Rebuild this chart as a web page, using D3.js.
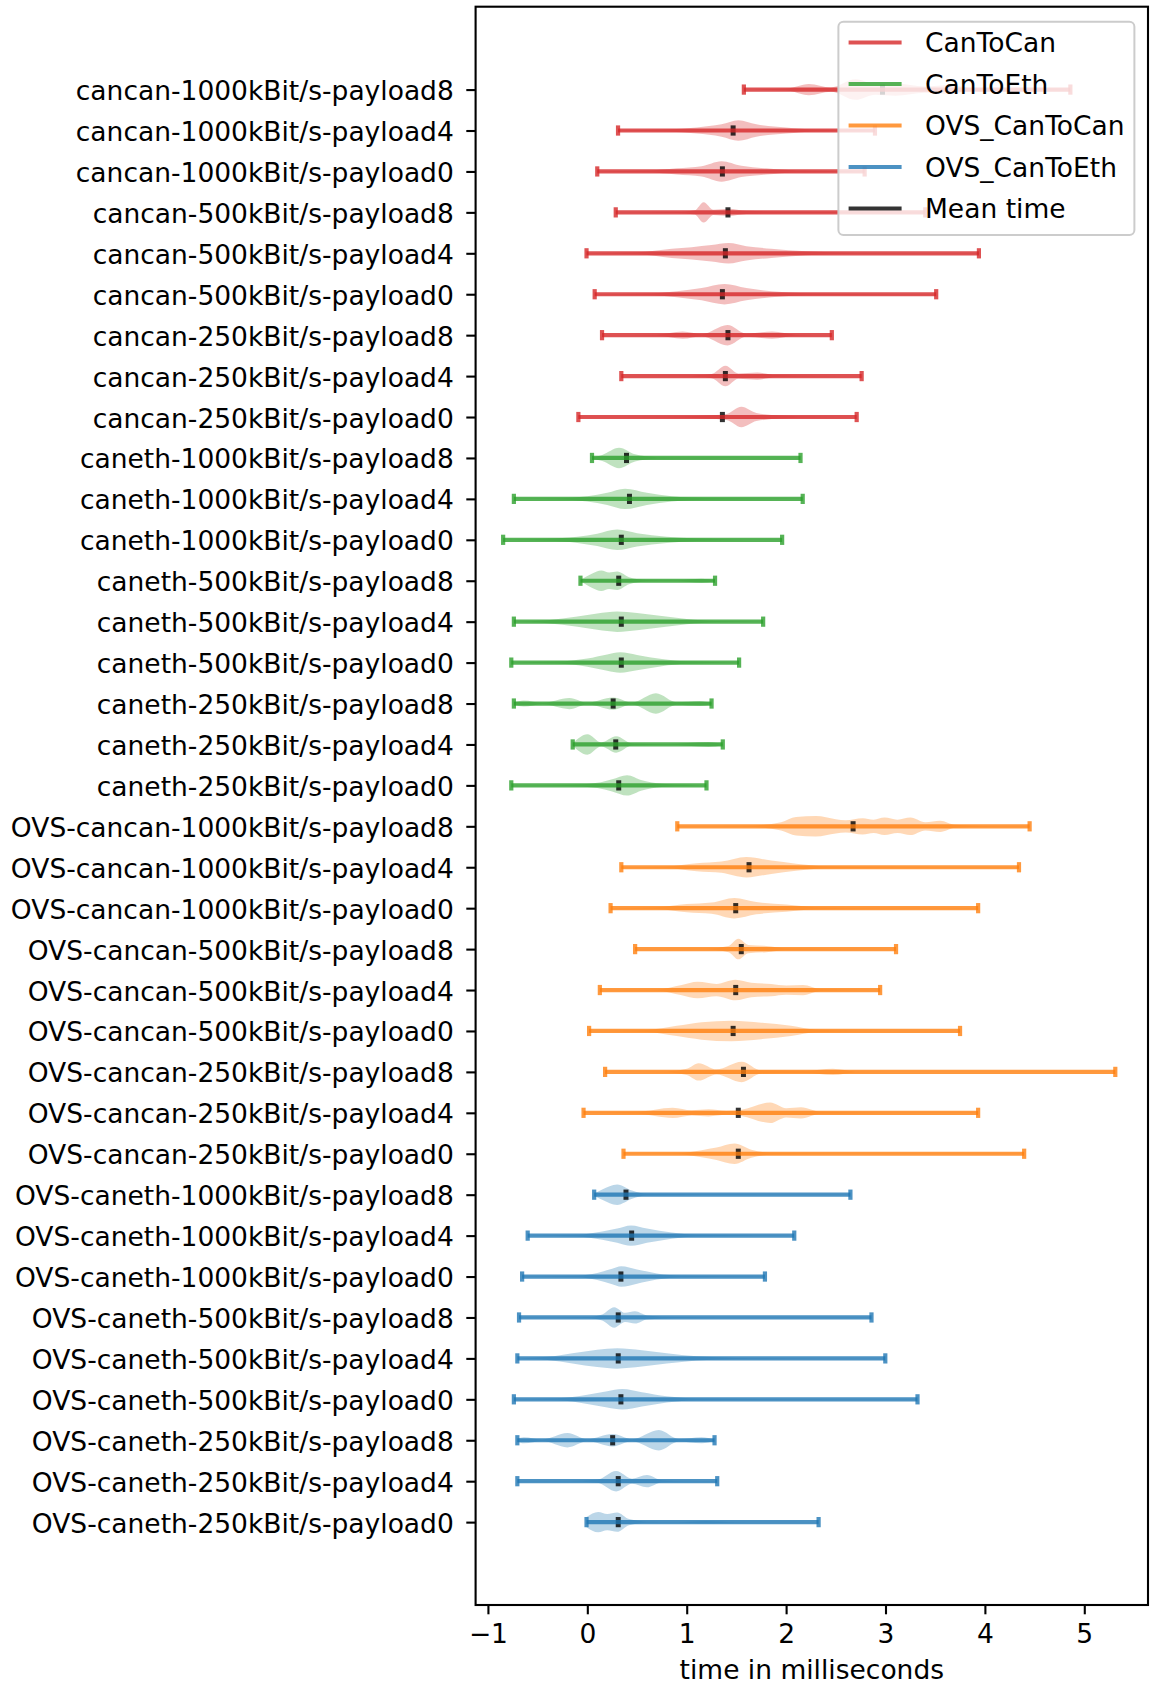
<!DOCTYPE html>
<html>
<head>
<meta charset="utf-8">
<script src="https://cdn.jsdelivr.net/npm/d3@7"></script>
<style>
  html, body { margin: 0; padding: 0; background: #fff; }
  svg { display: block; font-family: "DejaVu Sans", sans-serif; }
</style>
</head>
<body>
<svg id="chart" width="1158" height="1684"></svg>
<script>
// ---------------- data ----------------
const categories = [
  "cancan-1000kBit/s-payload8", "cancan-1000kBit/s-payload4", "cancan-1000kBit/s-payload0",
  "cancan-500kBit/s-payload8", "cancan-500kBit/s-payload4", "cancan-500kBit/s-payload0",
  "cancan-250kBit/s-payload8", "cancan-250kBit/s-payload4", "cancan-250kBit/s-payload0",
  "caneth-1000kBit/s-payload8", "caneth-1000kBit/s-payload4", "caneth-1000kBit/s-payload0",
  "caneth-500kBit/s-payload8", "caneth-500kBit/s-payload4", "caneth-500kBit/s-payload0",
  "caneth-250kBit/s-payload8", "caneth-250kBit/s-payload4", "caneth-250kBit/s-payload0",
  "OVS-cancan-1000kBit/s-payload8", "OVS-cancan-1000kBit/s-payload4", "OVS-cancan-1000kBit/s-payload0",
  "OVS-cancan-500kBit/s-payload8", "OVS-cancan-500kBit/s-payload4", "OVS-cancan-500kBit/s-payload0",
  "OVS-cancan-250kBit/s-payload8", "OVS-cancan-250kBit/s-payload4", "OVS-cancan-250kBit/s-payload0",
  "OVS-caneth-1000kBit/s-payload8", "OVS-caneth-1000kBit/s-payload4", "OVS-caneth-1000kBit/s-payload0",
  "OVS-caneth-500kBit/s-payload8", "OVS-caneth-500kBit/s-payload4", "OVS-caneth-500kBit/s-payload0",
  "OVS-caneth-250kBit/s-payload8", "OVS-caneth-250kBit/s-payload4", "OVS-caneth-250kBit/s-payload0"
];
const groups = [
  "CanToCan","CanToCan","CanToCan","CanToCan","CanToCan","CanToCan","CanToCan","CanToCan","CanToCan",
  "CanToEth","CanToEth","CanToEth","CanToEth","CanToEth","CanToEth","CanToEth","CanToEth","CanToEth",
  "OVS_CanToCan","OVS_CanToCan","OVS_CanToCan","OVS_CanToCan","OVS_CanToCan","OVS_CanToCan","OVS_CanToCan","OVS_CanToCan","OVS_CanToCan",
  "OVS_CanToEth","OVS_CanToEth","OVS_CanToEth","OVS_CanToEth","OVS_CanToEth","OVS_CanToEth","OVS_CanToEth","OVS_CanToEth","OVS_CanToEth"
];
const minTimes = [
  1.575, 0.309, 0.10, 0.286, -0.008, 0.074, 0.148, 0.342, -0.09,
  0.047, -0.739, -0.847, -0.069, -0.739, -0.765, -0.739, -0.147, -0.765,
  0.905, 0.342, 0.234, 0.481, 0.126, 0.018, 0.179, -0.038, 0.364,
  0.069, -0.60, -0.656, -0.687, -0.704, -0.739, -0.704, -0.704, -0.008
];
const maxTimes = [
  4.86, 2.894, 2.79, 3.40, 3.94, 3.51, 2.46, 2.76, 2.71,
  2.145, 2.167, 1.96, 1.285, 1.769, 1.527, 1.25, 1.363, 1.199,
  4.45, 4.343, 3.932, 3.106, 2.946, 3.75, 5.312, 3.932, 4.395,
  2.647, 2.082, 1.787, 2.859, 2.998, 3.322, 1.28, 1.307, 2.327
];
const meanTimes = [
  2.97, 1.467, 1.359, 1.415, 1.389, 1.359, 1.415, 1.389, 1.359,
  0.394, 0.424, 0.342, 0.316, 0.342, 0.342, 0.26, 0.286, 0.316,
  2.674, 1.627, 1.493, 1.549, 1.493, 1.467, 1.571, 1.519, 1.519,
  0.389, 0.446, 0.338, 0.311, 0.311, 0.338, 0.255, 0.311, 0.311
];
// density profile per row: [time, relative density]
const profiles = [
  [[1.575,0.02],[2.0,0.1],[2.23,0.55],[2.45,0.2],[2.7,1],[2.9,0.5],[3.1,0.6],[3.4,0.3],[3.65,0.45],[3.9,0.1],[4.3,0.05],[4.86,0.02]],
  [[0.309,0.02],[0.8,0.1],[1.1,0.3],[1.35,0.6],[1.52,1],[1.7,0.6],[2.0,0.3],[2.3,0.1],[2.894,0.02]],
  [[0.1,0.02],[0.6,0.08],[0.9,0.3],[1.15,0.5],[1.35,1],[1.55,0.55],[1.8,0.3],[2.1,0.1],[2.79,0.02]],
  [[0.286,0.02],[0.9,0.05],[1.08,0.2],[1.17,1],[1.27,0.25],[1.42,0.35],[1.6,0.15],[2.0,0.08],[2.6,0.05],[3.4,0.02]],
  [[-0.008,0.02],[0.5,0.1],[0.85,0.45],[1.05,0.6],[1.25,0.8],[1.42,1],[1.6,0.7],[1.85,0.45],[2.2,0.2],[2.7,0.05],[3.94,0.02]],
  [[0.074,0.02],[0.6,0.08],[0.9,0.3],[1.15,0.6],[1.38,1],[1.6,0.6],[1.85,0.3],[2.2,0.1],[2.8,0.04],[3.51,0.02]],
  [[0.148,0.02],[0.7,0.05],[0.96,0.35],[1.15,0.1],[1.41,1],[1.6,0.15],[1.86,0.35],[2.1,0.05],[2.46,0.02]],
  [[0.342,0.02],[1.0,0.05],[1.25,0.2],[1.39,1],[1.52,0.25],[1.71,0.35],[1.9,0.1],[2.3,0.04],[2.76,0.02]],
  [[-0.09,0.02],[0.8,0.05],[1.2,0.15],[1.4,0.3],[1.55,1],[1.7,0.4],[1.95,0.15],[2.3,0.05],[2.71,0.02]],
  [[0.047,0.05],[0.15,0.3],[0.32,1],[0.48,0.35],[0.7,0.08],[1.2,0.05],[1.6,0.03],[2.145,0.02]],
  [[-0.739,0.02],[-0.3,0.05],[0.0,0.25],[0.2,0.6],[0.38,1],[0.6,0.6],[0.85,0.25],[1.2,0.08],[1.7,0.03],[2.167,0.02]],
  [[-0.847,0.02],[-0.4,0.1],[-0.1,0.3],[0.1,0.6],[0.3,1],[0.5,0.65],[0.8,0.3],[1.1,0.12],[1.5,0.04],[1.96,0.02]],
  [[-0.069,0.05],[0.05,0.7],[0.14,1],[0.22,0.8],[0.3,0.9],[0.42,0.35],[0.6,0.08],[0.9,0.05],[1.15,0.2],[1.285,0.03]],
  [[-0.739,0.02],[-0.4,0.15],[-0.1,0.5],[0.1,0.8],[0.3,1],[0.5,0.85],[0.75,0.55],[1.0,0.25],[1.3,0.06],[1.769,0.02]],
  [[-0.765,0.02],[-0.3,0.1],[0.0,0.4],[0.2,0.8],[0.33,1],[0.5,0.75],[0.75,0.35],[1.0,0.12],[1.527,0.02]],
  [[-0.739,0.1],[-0.64,0.3],[-0.45,0.08],[-0.18,0.55],[0.0,0.1],[0.26,0.6],[0.45,0.1],[0.69,1],[0.9,0.12],[1.13,0.25],[1.25,0.05]],
  [[-0.147,0.1],[0.0,1],[0.14,0.2],[0.29,0.8],[0.45,0.1],[0.8,0.04],[1.22,0.25],[1.363,0.05]],
  [[-0.765,0.02],[-0.2,0.05],[0.1,0.25],[0.25,0.6],[0.4,1],[0.55,0.5],[0.75,0.15],[1.0,0.05],[1.199,0.02]],
  [[0.905,0.02],[1.6,0.05],[1.95,0.4],[2.1,0.9],[2.3,1],[2.5,0.7],[2.6,0.6],[2.77,0.8],[2.88,0.65],[2.99,0.85],[3.12,0.65],[3.25,0.85],[3.4,0.4],[3.55,0.55],[3.7,0.15],[4.0,0.04],[4.45,0.02]],
  [[0.342,0.02],[0.8,0.08],[1.1,0.4],[1.35,0.55],[1.6,1],[1.85,0.65],[2.1,0.35],[2.4,0.1],[3.0,0.04],[4.343,0.02]],
  [[0.234,0.02],[0.7,0.08],[1.0,0.4],[1.25,0.55],[1.48,1],[1.7,0.6],[2.0,0.35],[2.3,0.1],[3.0,0.03],[3.932,0.02]],
  [[0.481,0.02],[1.2,0.05],[1.42,0.3],[1.52,1],[1.62,0.4],[1.8,0.3],[2.0,0.08],[2.5,0.03],[3.106,0.02]],
  [[0.126,0.02],[0.7,0.06],[0.95,0.5],[1.11,0.8],[1.3,0.6],[1.49,1],[1.65,0.7],[1.85,0.6],[2.0,0.45],[2.17,0.5],[2.35,0.1],[2.946,0.02]],
  [[0.018,0.02],[0.6,0.1],[0.9,0.5],[1.15,0.85],[1.45,1],[1.75,0.8],[2.05,0.5],[2.3,0.12],[3.0,0.03],[3.75,0.02]],
  [[0.179,0.02],[0.8,0.05],[1.0,0.3],[1.12,0.85],[1.3,0.25],[1.553,1],[1.75,0.15],[2.2,0.1],[2.47,0.3],[2.7,0.05],[3.5,0.02],[5.312,0.02]],
  [[-0.038,0.02],[0.5,0.1],[0.86,0.5],[1.05,0.25],[1.22,0.35],[1.4,0.2],[1.55,0.3],[1.84,1],[2.0,0.45],[2.15,0.55],[2.35,0.1],[3.0,0.03],[3.932,0.02]],
  [[0.364,0.02],[0.9,0.05],[1.15,0.35],[1.3,0.6],[1.48,1],[1.65,0.4],[1.85,0.1],[2.5,0.03],[4.395,0.02]],
  [[0.069,0.1],[0.15,0.5],[0.3,1],[0.45,0.4],[0.6,0.08],[1.2,0.04],[2.0,0.02],[2.647,0.02]],
  [[-0.6,0.02],[-0.1,0.08],[0.15,0.4],[0.3,0.7],[0.44,1],[0.6,0.7],[0.85,0.3],[1.1,0.08],[1.6,0.03],[2.082,0.02]],
  [[-0.656,0.02],[-0.1,0.08],[0.1,0.35],[0.25,0.75],[0.34,1],[0.5,0.7],[0.7,0.3],[0.95,0.08],[1.787,0.02]],
  [[-0.687,0.02],[0.0,0.05],[0.15,0.3],[0.27,1],[0.38,0.45],[0.48,0.6],[0.6,0.2],[0.9,0.05],[1.8,0.03],[2.859,0.02]],
  [[-0.704,0.02],[-0.4,0.15],[-0.15,0.5],[0.1,0.85],[0.3,1],[0.55,0.8],[0.8,0.5],[1.1,0.2],[1.5,0.05],[2.998,0.02]],
  [[-0.739,0.02],[-0.3,0.1],[0.0,0.45],[0.2,0.8],[0.35,1],[0.55,0.7],[0.8,0.3],[1.1,0.08],[1.8,0.03],[3.322,0.02]],
  [[-0.704,0.15],[-0.64,0.3],[-0.45,0.08],[-0.2,0.7],[0.0,0.1],[0.255,0.6],[0.45,0.1],[0.72,1],[0.92,0.12],[1.15,0.3],[1.28,0.05]],
  [[-0.704,0.04],[-0.2,0.04],[0.1,0.15],[0.29,1],[0.45,0.25],[0.6,0.6],[0.75,0.1],[1.0,0.04],[1.307,0.02]],
  [[-0.008,0.5],[0.11,1],[0.2,0.8],[0.3,0.95],[0.42,0.3],[0.6,0.06],[0.9,0.04],[1.19,0.12],[1.5,0.03],[2.327,0.02]]
];
const legendLabels = ["CanToCan", "CanToEth", "OVS_CanToCan", "OVS_CanToEth", "Mean time"];
const groupColors = ["#d62728", "#2ca02c", "#ff7f0e", "#1f77b4"];
const xTicks = [-1, 0, 1, 2, 3, 4, 5];
const xLabel = "time in milliseconds";

// ---------------- layout ----------------
const plot = { left: 475.6, right: 1148, top: 6.7, bottom: 1605 };
const fontSize = 26.5;
const svg = d3.select("#chart");

const x = d3.scaleLinear().domain([-1.124, 5.641]).range([plot.left, plot.right]);
const y = d3.scaleLinear().domain([-2.025, categories.length + 1.025]).range([plot.top, plot.bottom]);
const unit = y(1) - y(0);
const color = d3.scaleOrdinal().domain(legendLabels.slice(0, 4)).range(groupColors);

const halfViolin = 0.25 * unit;
const capHalf = 0.125 * unit;
const lineW = 4.2;

const gData = svg.append("g");

// violins
categories.forEach((cat, i) => {
  const yc = y(i);
  const area = d3.area()
    .curve(d3.curveMonotoneX)
    .x(d => x(d[0]))
    .y0(d => yc - d[1] * halfViolin)
    .y1(d => yc + d[1] * halfViolin);
  gData.append("path")
    .attr("d", area(profiles[i]))
    .attr("fill", color(groups[i]))
    .attr("fill-opacity", 0.3)
    .attr("stroke", "none");
});

// means, then whiskers and caps on top
categories.forEach((cat, i) => {
  const yc = y(i);
  const c = color(groups[i]);
  gData.append("line")
    .attr("x1", x(meanTimes[i])).attr("x2", x(meanTimes[i]))
    .attr("y1", yc - capHalf).attr("y2", yc + capHalf)
    .attr("stroke", "#000").attr("stroke-opacity", 0.8).attr("stroke-width", 5);
  const g = gData.append("g").attr("stroke", c).attr("stroke-opacity", 0.8).attr("stroke-width", lineW);
  g.append("line").attr("x1", x(minTimes[i])).attr("x2", x(maxTimes[i])).attr("y1", yc).attr("y2", yc);
  g.append("line").attr("x1", x(minTimes[i])).attr("x2", x(minTimes[i])).attr("y1", yc - capHalf).attr("y2", yc + capHalf);
  g.append("line").attr("x1", x(maxTimes[i])).attr("x2", x(maxTimes[i])).attr("y1", yc - capHalf).attr("y2", yc + capHalf);
});

// axes frame
svg.append("rect")
  .attr("x", plot.left).attr("y", plot.top)
  .attr("width", plot.right - plot.left).attr("height", plot.bottom - plot.top)
  .attr("fill", "none").attr("stroke", "#000").attr("stroke-width", 2.1);

// x axis
const xAxis = d3.axisBottom(x).tickValues(xTicks).tickSize(9.3).tickPadding(9)
  .tickFormat(d => d < 0 ? "\u2212" + Math.abs(d) : String(d));
const gx = svg.append("g").attr("transform", `translate(0,${plot.bottom})`).call(xAxis);
gx.select(".domain").remove();
gx.selectAll(".tick line").attr("stroke", "#000").attr("stroke-width", 2.1);
gx.selectAll(".tick text")
  .attr("font-family", "DejaVu Sans").attr("font-size", fontSize).attr("fill", "#000")
  .attr("dy", null).attr("y", 38);

// y axis
const yAxis = d3.axisLeft(y).tickValues(d3.range(categories.length)).tickSize(9.3).tickPadding(12.5)
  .tickFormat(i => categories[i]);
const gy = svg.append("g").attr("transform", `translate(${plot.left},0)`).call(yAxis);
gy.select(".domain").remove();
gy.selectAll(".tick line").attr("stroke", "#000").attr("stroke-width", 2.1);
gy.selectAll(".tick text")
  .attr("font-family", "DejaVu Sans").attr("font-size", fontSize).attr("fill", "#000")
  .attr("dy", null).attr("y", 10);

// x label
svg.append("text")
  .attr("x", (plot.left + plot.right) / 2).attr("y", 1679)
  .attr("text-anchor", "middle")
  .attr("font-size", fontSize).attr("fill", "#000")
  .text(xLabel);

// legend
const leg = svg.append("g");
leg.append("rect")
  .attr("x", 838.4).attr("y", 21.7).attr("width", 296).attr("height", 213.3)
  .attr("rx", 5).attr("ry", 5)
  .attr("fill", "#fff").attr("fill-opacity", 0.8)
  .attr("stroke", "#cccccc").attr("stroke-width", 2);
const legColors = groupColors.concat(["#000"]);
legendLabels.forEach((lab, k) => {
  const ly = 42.5 + k * 41.5;
  leg.append("line")
    .attr("x1", 848.6).attr("x2", 901.6).attr("y1", ly).attr("y2", ly)
    .attr("stroke", legColors[k]).attr("stroke-opacity", 0.8).attr("stroke-width", lineW);
  leg.append("text")
    .attr("x", 925).attr("y", ly + 9.5)
    .attr("font-size", fontSize).attr("fill", "#000")
    .text(lab);
});
</script>
</body>
</html>
